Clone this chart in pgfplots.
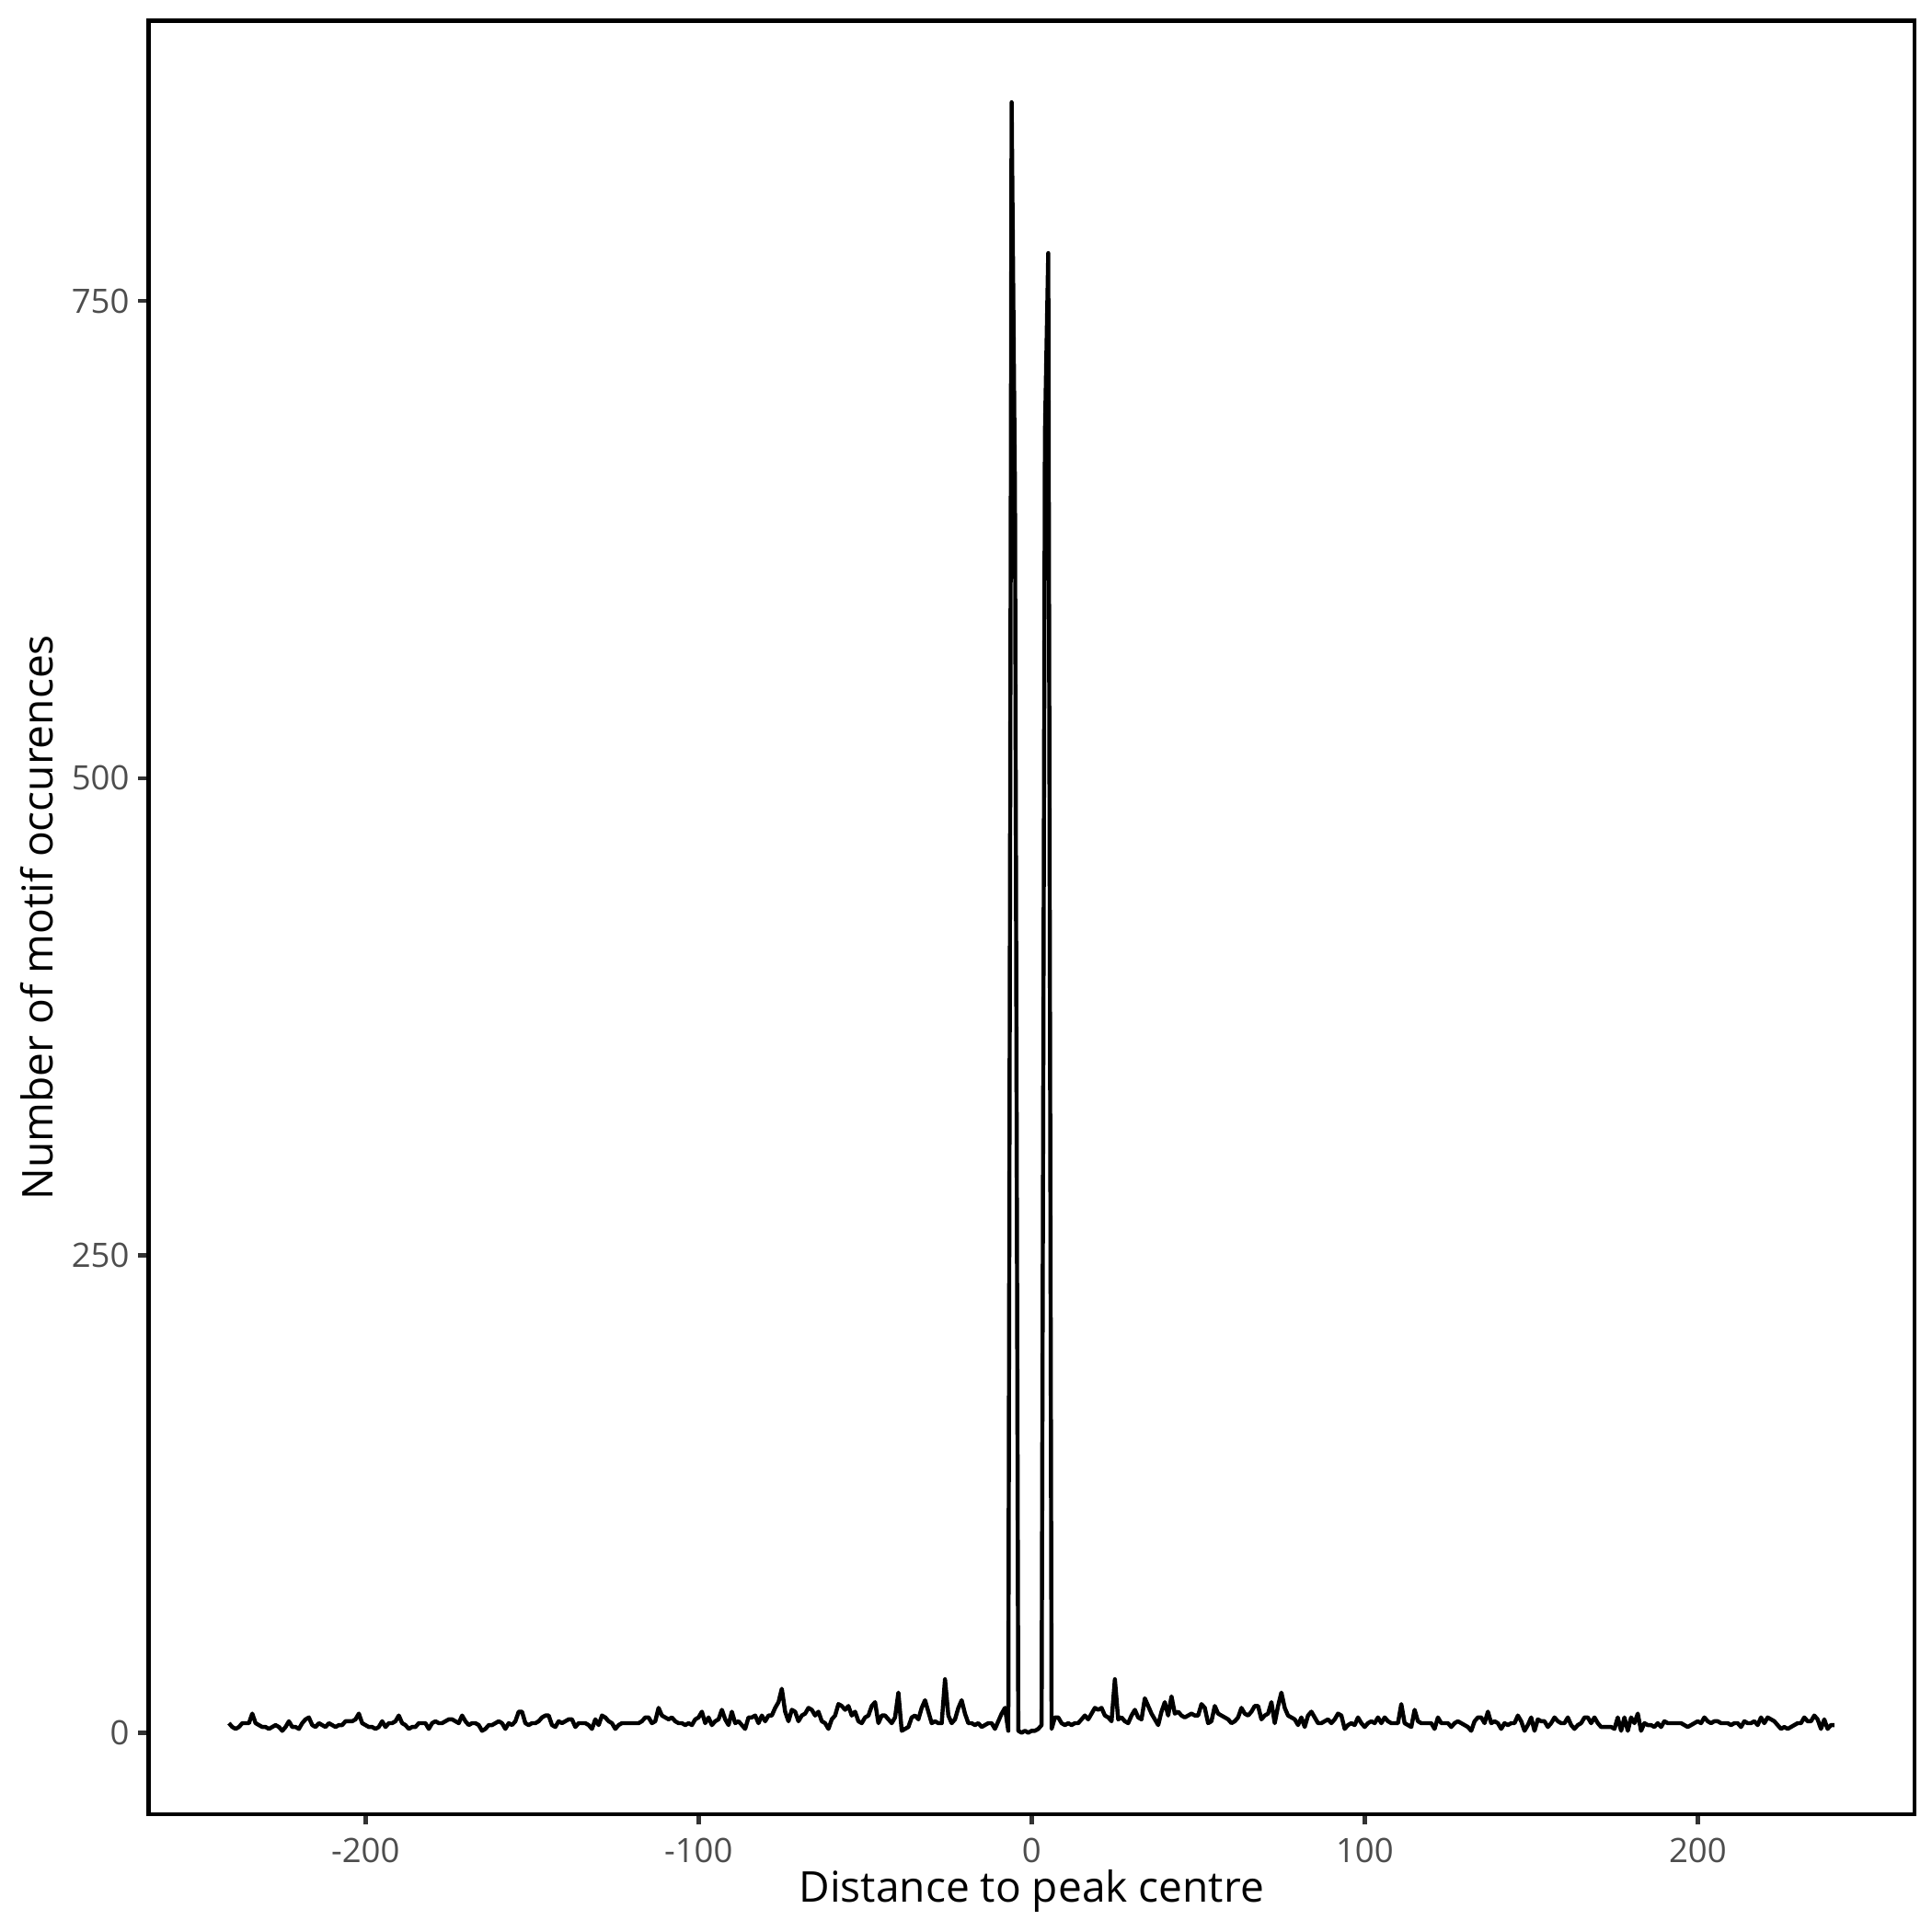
\documentclass[border=0pt]{standalone}
\usepackage{pgfplots}
\pgfplotsset{compat=1.18}
\usepackage{fontspec}
\setmainfont{Open Sans}
\definecolor{labgray}{HTML}{4D4D4D}
\definecolor{tickgray}{HTML}{333333}
\begin{document}
\begin{tikzpicture}
\path[use as bounding box] (0,0) rectangle (7in,7in);
\begin{axis}[
    at={(0.5387in,0.4267in)}, anchor=south west,
    scale only axis, width=6.398in, height=6.498in,
    xmin=-265.1, xmax=265.1, ymin=-42.7, ymax=896.7,
    axis line style={black, line width=1.07pt},
    tick align=outside, major tick length=2.75pt,
    xtick pos=bottom, ytick pos=left,
    every tick/.style={tickgray, line width=1.07pt},
    xtick={-200,-100,0,100,200}, xticklabels={-200,-100,0,100,200},
    ytick={0,250,500,750}, yticklabels={0,250,500,750},
    ticklabel style={font=\fontsize{8.8}{10}\selectfont, text=labgray},
    yticklabel style={xshift=1.2pt},
    xlabel={Distance to peak centre},
    ylabel={Number of motif occurences},
    every axis x label/.style={at={(axis description cs:0.5,-0.0431)}, anchor=center,
        font=\fontsize{11.1}{13}\selectfont, text=black},
    every axis y label/.style={at={(axis description cs:-0.0634,0.5)}, rotate=90, anchor=center,
        font=\fontsize{11.1}{13}\selectfont, text=black},
]
\addplot[black, line width=1.07pt, line join=round, mark=none] coordinates {
(-241,5) (-240,3) (-239,2) (-238,3) (-237,5) (-236,5) (-235,5) (-234,10) (-233,5) (-232,4)
(-231,3) (-230,3) (-229,2) (-228,3) (-227,4) (-226,3) (-225,1) (-224,3) (-223,6) (-222,3)
(-221,3) (-220,2) (-219,5) (-218,7) (-217,8) (-216,4) (-215,3) (-214,5) (-213,4) (-212,3)
(-211,5) (-210,4) (-209,3) (-208,4) (-207,4) (-206,6) (-205,6) (-204,6) (-203,7) (-202,10)
(-201,5) (-200,4) (-199,3) (-198,3) (-197,2) (-196,3) (-195,6) (-194,3) (-193,5) (-192,5)
(-191,6) (-190,9) (-189,5) (-188,4) (-187,2) (-186,3) (-185,3) (-184,5) (-183,5) (-182,5)
(-181,2) (-180,5) (-179,6) (-178,5) (-177,5) (-176,6) (-175,7) (-174,7) (-173,6) (-172,5)
(-171,9) (-170,6) (-169,4) (-168,5) (-167,5) (-166,4) (-165,1) (-164,2) (-163,4) (-162,4)
(-161,5) (-160,6) (-159,5) (-158,2) (-157,5) (-156,4) (-155,6) (-154,11) (-153,11) (-152,5)
(-151,4) (-150,5) (-149,5) (-148,6) (-147,8) (-146,9) (-145,9) (-144,4) (-143,3) (-142,6)
(-141,5) (-140,6) (-139,7) (-138,7) (-137,3) (-136,5) (-135,5) (-134,5) (-133,4) (-132,2)
(-131,7) (-130,4) (-129,9) (-128,8) (-127,6) (-126,5) (-125,2) (-124,4) (-123,5) (-122,5)
(-121,5) (-120,5) (-119,5) (-118,5) (-117,6) (-116,8) (-115,8) (-114,5) (-113,6) (-112,13)
(-111,9) (-110,8) (-109,7) (-108,8) (-107,6) (-106,5) (-105,5) (-104,4) (-103,5) (-102,4)
(-101,7) (-100,8) (-99,11) (-98,5) (-97,8) (-96,4) (-95,6) (-94,7) (-93,12) (-92,7)
(-91,4) (-90,11) (-89,5) (-88,6) (-87,4) (-86,2) (-85,8) (-84,8) (-83,9) (-82,5)
(-81,9) (-80,6) (-79,9) (-78,9) (-77,13) (-76,16) (-75,23) (-74,11) (-73,6) (-72,12)
(-71,11) (-70,6) (-69,9) (-68,10) (-67,13) (-66,12) (-65,9) (-64,11) (-63,6) (-62,5)
(-61,2) (-60,7) (-59,9) (-58,15) (-57,14) (-56,12) (-55,14) (-54,9) (-53,11) (-52,6)
(-51,5) (-50,8) (-49,9) (-48,14) (-47,16) (-46,5) (-45,9) (-44,9) (-43,7) (-42,5)
(-41,8) (-40,21) (-39,1) (-38,2) (-37,3) (-36,8) (-35,9) (-34,7) (-33,13) (-32,17)
(-31,11) (-30,5) (-29,6) (-28,5) (-27,5) (-26,28) (-25,9) (-24,5) (-23,7) (-22,13)
(-21,17) (-20,10) (-19,5) (-18,5) (-17,4) (-16,5) (-15,3) (-14,4) (-13,5) (-12,5)
(-11,2) (-10,6) (-9,10) (-8,13) (-7,1) (-6,854) (-5,650) (-4,1) (-3,0) (-2,1)
(-1,0) (0,1) (1,1) (2,2) (3,4) (4,680) (5,775) (6,2) (7,8) (8,8)
(9,5) (10,4) (11,5) (12,4) (13,5) (14,5) (15,7) (16,9) (17,7) (18,10)
(19,13) (20,12) (21,13) (22,9) (23,8) (24,6) (25,28) (26,7) (27,8) (28,6)
(29,5) (30,9) (31,12) (32,8) (33,7) (34,18) (35,14) (36,10) (37,7) (38,4)
(39,11) (40,16) (41,9) (42,19) (43,10) (44,11) (45,9) (46,8) (47,9) (48,10)
(49,9) (50,9) (51,15) (52,13) (53,5) (54,6) (55,14) (56,10) (57,9) (58,8)
(59,7) (60,5) (61,6) (62,8) (63,13) (64,10) (65,9) (66,11) (67,14) (68,14)
(69,7) (70,9) (71,10) (72,16) (73,5) (74,14) (75,21) (76,13) (77,9) (78,8)
(79,7) (80,4) (81,8) (82,3) (83,9) (84,11) (85,8) (86,5) (87,5) (88,6)
(89,7) (90,5) (91,7) (92,10) (93,9) (94,2) (95,4) (96,5) (97,4) (98,8)
(99,5) (100,3) (101,5) (102,6) (103,5) (104,8) (105,5) (106,8) (107,6) (108,5)
(109,5) (110,5) (111,15) (112,5) (113,4) (114,3) (115,12) (116,6) (117,5) (118,5)
(119,5) (120,5) (121,2) (122,8) (123,5) (124,5) (125,5) (126,3) (127,5) (128,6)
(129,5) (130,4) (131,3) (132,1) (133,6) (134,8) (135,8) (136,5) (137,11) (138,5)
(139,6) (140,5) (141,2) (142,5) (143,4) (144,5) (145,5) (146,9) (147,6) (148,1)
(149,4) (150,8) (151,1) (152,7) (153,6) (154,6) (155,3) (156,5) (157,8) (158,6)
(159,5) (160,5) (161,8) (162,4) (163,2) (164,4) (165,5) (166,8) (167,8) (168,5)
(169,8) (170,5) (171,3) (172,3) (173,3) (174,3) (175,2) (176,8) (177,1) (178,8)
(179,1) (180,8) (181,5) (182,10) (183,1) (184,5) (185,4) (186,4) (187,3) (188,5)
(189,3) (190,6) (191,5) (192,5) (193,5) (194,5) (195,5) (196,4) (197,3) (198,4)
(199,5) (200,6) (201,5) (202,8) (203,6) (204,5) (205,6) (206,6) (207,5) (208,5)
(209,5) (210,4) (211,5) (212,5) (213,3) (214,6) (215,5) (216,5) (217,6) (218,4)
(219,8) (220,5) (221,8) (222,7) (223,6) (224,4) (225,2) (226,3) (227,2) (228,3)
(229,4) (230,5) (231,5) (232,8) (233,6) (234,6) (235,9) (236,7) (237,2) (238,7)
(239,2) (240,4) (241,4)
};
\end{axis}
\end{tikzpicture}
\end{document}
